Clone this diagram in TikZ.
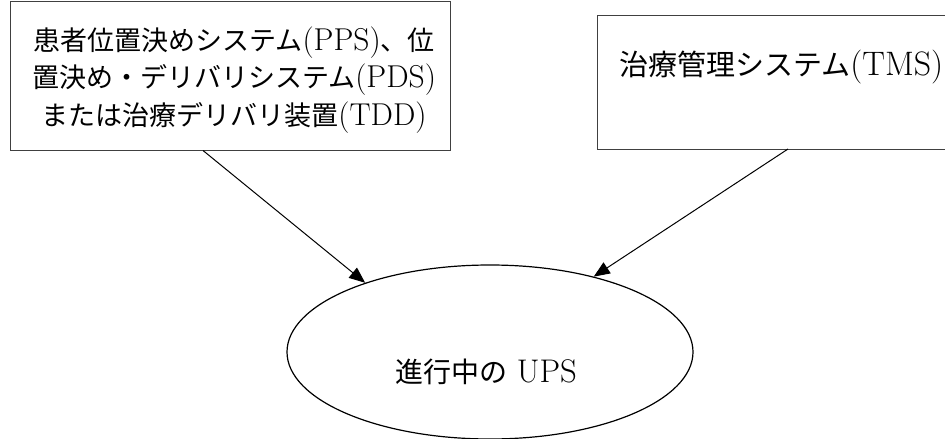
\documentclass[tikz,border=0pt]{standalone}
\usepackage{fontspec}
\setmainfont{Latin Modern Roman}[Scale=1.17]
\newfontfamily\cjk{Noto Sans CJK JP}
\newcommand{\J}[1]{{\cjk #1}}
\usetikzlibrary{arrows.meta,shapes.geometric}
\begin{document}
\begin{tikzpicture}[x=1pt,y=-1pt,
  boxstyle/.style={draw=black!75,line width=1pt,rectangle,inner sep=0pt},
  txt/.style={font=\fontsize{27}{37.5}\selectfont,inner sep=0pt},
  conn/.style={line width=1pt,-{Triangle[length=16pt,width=13pt]}}]
\useasboundingbox (0,0) rectangle (945,439);
\clip (0,0) rectangle (945,439);
% left box
\node[boxstyle,minimum width=440pt,minimum height=149pt] (pps) at (230,75.5) {};
\node[txt,align=center] (ppslabel) at (234,80)
  {\J{患者位置決めシステム}(PPS)\J{、位}\\
   \J{置決め・デリバリシステム}(PDS)\\
   \J{または治療デリバリ装置}(TDD)};
% right box
\node[boxstyle,minimum width=400pt,minimum height=134pt] (tms) at (797,82) {};
\node[txt,font=\fontsize{29}{37.5}\selectfont,anchor=west] (tmslabel) at (619,67) {\J{治療管理システム}(TMS)};
% ellipse
\node[ellipse,draw,line width=1.2pt,minimum width=406pt,minimum height=174pt,inner sep=0pt] (ups) at (490,352) {};
\node[txt,font=\fontsize{28}{37.5}\selectfont] (upslabel) at (486,372) {\J{進行中の} UPS};
% connectors
\coordinate (s1) at (203,150.5);
\coordinate (s2) at (788,149);
\draw[conn] (s1) -- (ups.151);
\draw[conn] (s2) -- (ups.36);
\end{tikzpicture}
\end{document}
